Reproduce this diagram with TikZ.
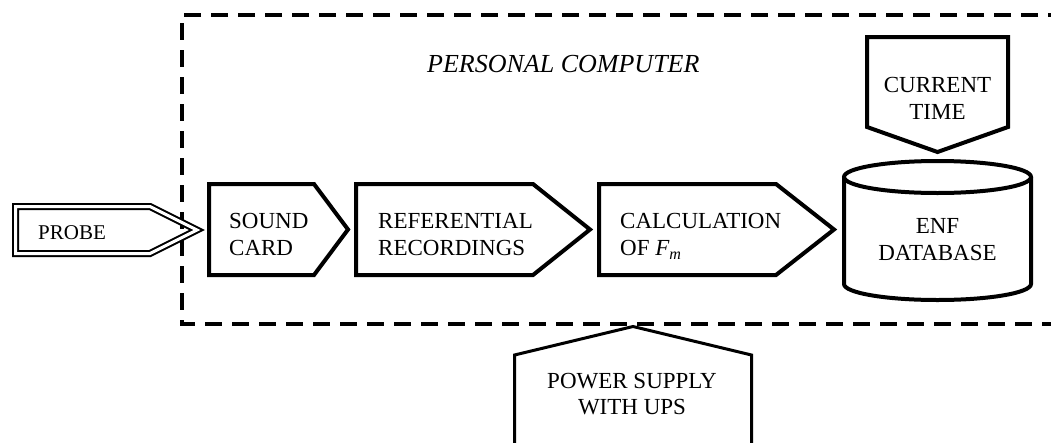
\documentclass[tikz,border=0pt]{standalone}
\usepackage{fontspec}
\setmainfont{Liberation Serif}
\begin{document}
\begin{tikzpicture}[x=1pt,y=-1pt,
  blk/.style={draw=black,line width=4pt,line join=miter},
  pcbox/.style={draw=black,line width=4pt,dash pattern=on 17pt off 10pt},
  probebox/.style={draw=black,double=white,double distance=3pt,line width=2pt,line join=miter},
  powerbox/.style={draw=black,line width=3pt,line join=miter},
  lbl/.style={inner sep=0pt,align=left,font=\fontsize{23}{27}\selectfont},
  clbl/.style={inner sep=0pt,align=center,font=\fontsize{23}{27}\selectfont},
  ]
\useasboundingbox (0,0) rectangle (1051,442);
\clip (0,0) rectangle (1051,442);
% personal computer dashed frame
\draw[pcbox] (1065,15) -- (182,15) -- (182,324) -- (1065,324);
\node[inner sep=0pt,anchor=north west,font=\fontsize{26}{30}\selectfont\itshape] (pc) at (427,55) {PERSONAL COMPUTER};
% probe
\draw[probebox] (15.5,206.5) -- (150,206.5) -- (197,230) -- (150,253.5) -- (15.5,253.5) -- cycle;
\node[inner sep=0pt,anchor=north west,font=\fontsize{21}{25}\selectfont] (probe) at (38,225) {PROBE};
% sound card
\draw[blk] (209,184) -- (314,184) -- (348,229.5) -- (314,275) -- (209,275) -- cycle;
\node[lbl,anchor=north west] (sound) at (229,213) {SOUND\\CARD};
% referential recordings
\draw[blk] (356,184) -- (533,184) -- (590,229.5) -- (533,275) -- (356,275) -- cycle;
\node[lbl,anchor=north west] (ref) at (378,213) {REFERENTIAL\\RECORDINGS};
% calculation
\draw[blk] (599,184) -- (776,184) -- (834,229.5) -- (776,275) -- (599,275) -- cycle;
\node[lbl,anchor=north west] (calc) at (620,213) {CALCULATION\\OF {\itshape F\textsubscript{m}}};
% database cylinder
\draw[blk] (937.5,177) ellipse [x radius=93.5pt,y radius=16pt];
\draw[blk] (844,177) -- (844,284) arc[start angle=180,end angle=360,x radius=93.5pt,y radius=16pt] -- (1031,177);
\node[clbl,anchor=north] (db) at (937.5,218) {ENF\\DATABASE};
% current time
\draw[blk] (867,37) -- (1008,37) -- (1008,127) -- (937.5,152) -- (867,127) -- cycle;
\node[clbl,anchor=north] (time) at (937.5,77) {CURRENT\\TIME};
% power supply
\draw[powerbox] (514.5,450) -- (514.5,355) -- (633,326.5) -- (751.5,355) -- (751.5,450);
\node[clbl,anchor=north,font=\fontsize{23}{26}\selectfont] (ups) at (632,373) {POWER SUPPLY\\WITH UPS};
\end{tikzpicture}
\end{document}
